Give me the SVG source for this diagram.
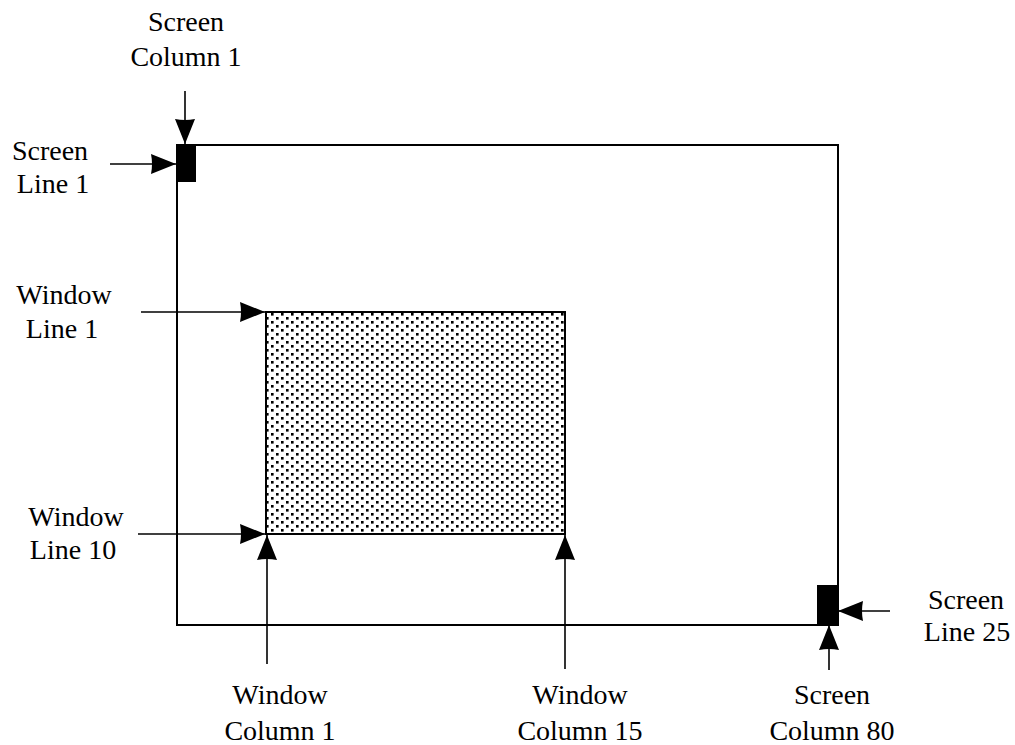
<svg xmlns="http://www.w3.org/2000/svg" width="1015" height="745" viewBox="0 0 1015 745">
<style>
.lbl{font-family:"Liberation Serif","Times New Roman",serif;font-size:28px;fill:#000;text-anchor:middle}
.frame{fill:none;stroke:#000;stroke-width:2}
.conn{fill:none;stroke:#000;stroke-width:1.6;marker-end:url(#ah)}
.mark{fill:#000}
</style>
<defs>
<marker id="ah" viewBox="0 0 25 20" refX="25" refY="10" markerWidth="25" markerHeight="20" markerUnits="userSpaceOnUse" orient="auto">
<path d="M0,0 L25,10 L0,20 Q2,10 0,0 Z" fill="#000"/>
</marker>
<pattern id="dots" x="0" y="0" width="10" height="8" patternUnits="userSpaceOnUse">
<rect x="1" y="1" width="2.6" height="2.6" fill="#000"/>
<rect x="6" y="5" width="2.6" height="2.6" fill="#000"/>
</pattern>
</defs>
<g id="screen">
<rect class="frame" x="177" y="145" width="661" height="480"/>
<rect class="mark" x="176" y="144" width="20" height="38"/>
<rect class="mark" x="817" y="585" width="21" height="39"/>
</g>
<g id="window">
<rect x="266" y="312" width="299" height="222" fill="url(#dots)" stroke="#000" stroke-width="2"/>
</g>
<g id="connectors">
<line class="conn" x1="185" y1="91" x2="185" y2="144"/>
<line class="conn" x1="110" y1="164" x2="176" y2="164"/>
<line class="conn" x1="141" y1="312" x2="265" y2="312"/>
<line class="conn" x1="138" y1="534" x2="265" y2="534"/>
<line class="conn" x1="267" y1="664" x2="267" y2="535"/>
<line class="conn" x1="565" y1="669" x2="565" y2="535"/>
<line class="conn" x1="890" y1="611" x2="838" y2="611"/>
<line class="conn" x1="829" y1="670" x2="829" y2="625"/>
</g>
<g id="label-screen-column-1">
<text class="lbl" x="186" y="31">Screen</text>
<text class="lbl" x="186" y="66">Column 1</text>
</g>
<g id="label-screen-line-1">
<text class="lbl" x="50" y="160">Screen</text>
<text class="lbl" x="53" y="193">Line 1</text>
</g>
<g id="label-window-line-1">
<text class="lbl" x="64" y="304">Window</text>
<text class="lbl" x="62" y="338">Line 1</text>
</g>
<g id="label-window-line-10">
<text class="lbl" x="76" y="526">Window</text>
<text class="lbl" x="73" y="559">Line 10</text>
</g>
<g id="label-window-column-1">
<text class="lbl" x="280" y="704">Window</text>
<text class="lbl" x="280" y="740">Column 1</text>
</g>
<g id="label-window-column-15">
<text class="lbl" x="580" y="704">Window</text>
<text class="lbl" x="580" y="740">Column 15</text>
</g>
<g id="label-screen-column-80">
<text class="lbl" x="832" y="704">Screen</text>
<text class="lbl" x="832" y="740">Column 80</text>
</g>
<g id="label-screen-line-25">
<text class="lbl" x="966" y="609">Screen</text>
<text class="lbl" x="967" y="641">Line 25</text>
</g>
</svg>
